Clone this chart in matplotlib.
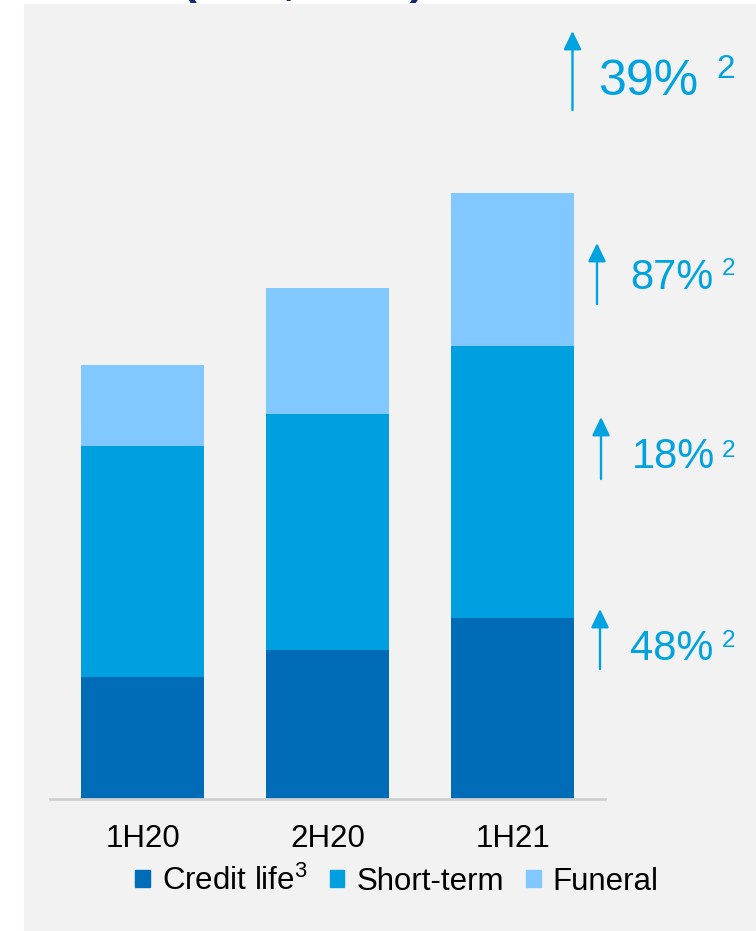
import matplotlib
matplotlib.use("Agg")
import matplotlib.pyplot as plt
from matplotlib.patches import Rectangle, Patch

plt.rcParams['font.family'] = ['Liberation Sans', 'DejaVu Sans']
plt.rcParams['mathtext.default'] = 'regular'

# ---- data ----
periods = ["1H20", "2H20", "1H21"]
credit_life = [122, 149, 181]
short_term = [231, 236, 272]
funeral = [81, 126, 153]
series_names = ["Credit life$^{3}$", "Short-term", "Funeral"]
growth_labels = ["48%", "18%", "87%", "39%"]
footnote = "2"

# ---- styles ----
c_credit = "#006bb6"
c_short = "#00a0e0"
c_funeral = "#80c8ff"
c_accent = "#00a3e0"
bg = "#f2f2f2"

W, H = 756, 931
fig = plt.figure(figsize=(W / 100, H / 100), dpi=100)
fig.patch.set_facecolor("white")
fig.patches.append(Rectangle((24 / W, 0), 1 - 24 / W, (H - 4) / H,
                             transform=fig.transFigure, color=bg, zorder=-5))

# cut-off title at top
fig.text(182 / W, 1 + 6.5 / H, "(Rbn, IFRS)", color="#14286e", fontsize=32,
         fontweight="bold", ha="left", va="baseline", zorder=-4)

ax_l, ax_r, ax_b, ax_t = 50, 605, 799, 4
ax = fig.add_axes([ax_l / W, (H - ax_b) / H, (ax_r - ax_l) / W, (ax_b - ax_t) / H])
ax.set_facecolor("none")
ax.set_zorder(1)
ax.set_xlim(-0.5, 2.5)
ax.set_ylim(0, ax_b - ax_t)

x = range(len(periods))
bw = 123 / 185
ax.bar(x, credit_life, bw, color=c_credit, label=series_names[0], zorder=2)
bottom2 = [a for a in credit_life]
ax.bar(x, short_term, bw, bottom=bottom2, color=c_short, label=series_names[1], zorder=2)
bottom3 = [a + b for a, b in zip(credit_life, short_term)]
ax.bar(x, funeral, bw, bottom=bottom3, color=c_funeral, label=series_names[2], zorder=2)

for s in ["top", "right", "left"]:
    ax.spines[s].set_visible(False)
ax.spines["bottom"].set_color("#d0d0d0")
ax.spines["bottom"].set_linewidth(2)
ax.set_yticks([])
ax.set_xticks(list(x))
ax.set_xticklabels(periods, fontsize=22.5)
ax.tick_params(axis="x", length=0, pad=18)

# growth annotations (positions in px -> data)
def dx(px):
    return (px - ax_l) / 185 - 0.5

def dy(py):
    return ax_b - py

ann = [
    # arrow x, arrow bottom, arrow top, text x, baseline, sup x, sup baseline, fs, sup fs
    (600, 669, 609, 630, 660, 722, 647, 30, 17.5),
    (601, 479, 417, 632, 468, 722, 457, 30, 17.5),
    (597, 304, 243, 630, 289, 722, 275, 30, 17.5),
    (572.5, 110, 31, 598, 95, 716, 78, 36, 24),
]
for lab, (axp, ab, at, tx, tb, sx, sb, fs, sfs) in zip(growth_labels, ann):
    ax.annotate("", xy=(dx(axp), dy(at)), xytext=(dx(axp), dy(ab)),
                arrowprops=dict(arrowstyle="-|>,head_length=0.56,head_width=0.27",
                                color=c_accent, lw=1.7, mutation_scale=20,
                                shrinkA=0, shrinkB=0),
                annotation_clip=False)
    ax.text(dx(tx), dy(tb), lab, color=c_accent, fontsize=fs, ha="left",
            va="baseline", clip_on=False)
    ax.text(dx(sx), dy(sb), footnote, color=c_accent, fontsize=sfs, ha="left",
            va="baseline", clip_on=False)

handles = [Patch(color=c_credit), Patch(color=c_short), Patch(color=c_funeral)]
fig.legend(handles, series_names, loc="center left",
           bbox_to_anchor=(135 / W, (H - 881) / H), ncol=3, frameon=False,
           fontsize=22.5, handlelength=0.47, handleheight=0.47, handletextpad=0.38,
           columnspacing=0.72, borderpad=0, borderaxespad=0)

fig.savefig("out.png", dpi=100, facecolor=fig.get_facecolor())
